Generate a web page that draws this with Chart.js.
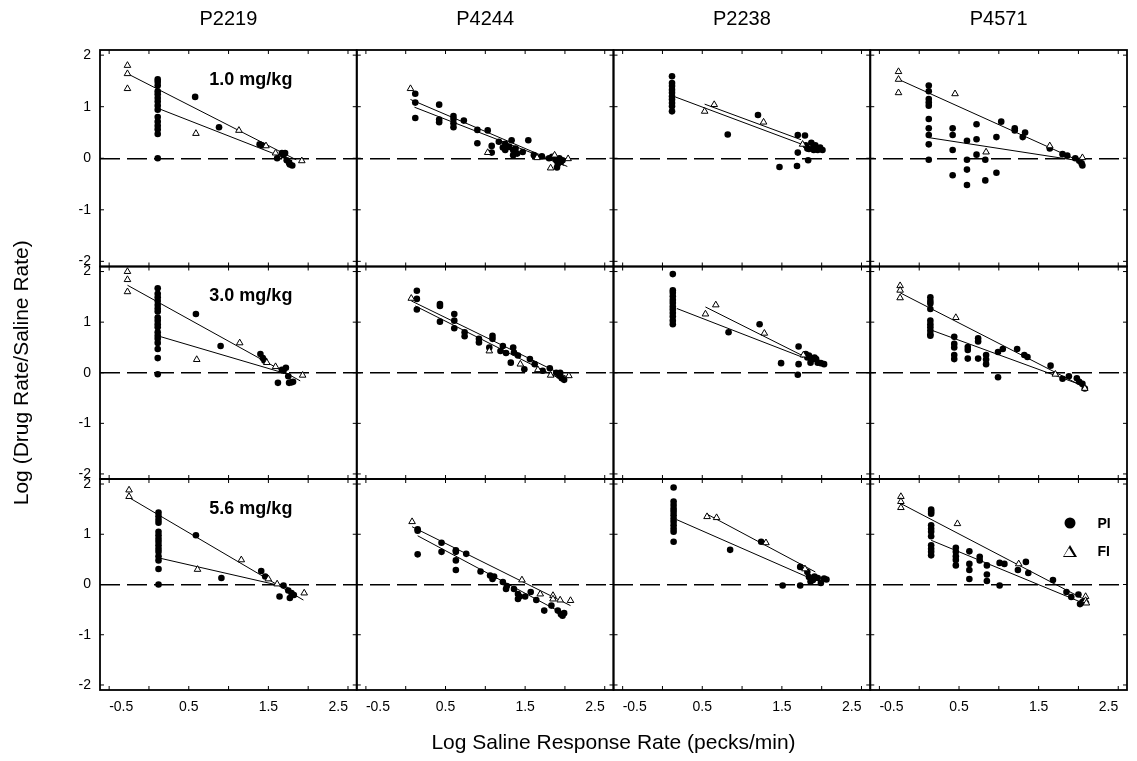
<!DOCTYPE html>
<html>
<head>
<meta charset="utf-8">
<title>Log (Drug Rate/Saline Rate)</title>
<script src="https://cdn.jsdelivr.net/npm/chart.js@4.4.0/dist/chart.umd.min.js"></script>
<style>
  body { margin: 0; background: #fff; }
  #wrap { position: relative; width: 1137px; height: 761px; font-family: "Liberation Sans", Arial, sans-serif; color: #000; }
  #wrap canvas { position: absolute; left: 0; top: 0; }
  .lbl { position: absolute; white-space: nowrap; transform: translate(-50%, -50%); }
  .colTitle { font-size: 20px; }
  .dose { font-size: 18px; font-weight: bold; }
  .xTitle { font-size: 21px; }
  .leg { position: absolute; font-size: 14px; font-weight: bold; transform: translate(0, -50%); }
  .dot { position: absolute; width: 11px; height: 11px; border-radius: 50%; background: #000; transform: translate(-50%, -50%); }
  .tri { position: absolute; width: 0; height: 0; border-left: 7px solid transparent; border-right: 7px solid transparent; border-bottom: 12px solid #000; transform: translate(-50%, -50%); }
  .tri::after { content: ""; position: absolute; left: -5.5px; top: 2.5px; border-left: 5.5px solid transparent; border-right: 5.5px solid transparent; border-bottom: 8.5px solid #fff; }
</style>
</head>
<body>
<div id="wrap">
  <canvas id="chart" width="1137" height="761"></canvas>
</div>
<script>
const subjects = ["P2219", "P4244", "P2238", "P4571"]
const doses = ["1.0 mg/kg", "3.0 mg/kg", "5.6 mg/kg"]
const xTicks = [-0.5, 0, 0.5, 1, 1.5, 2, 2.5]
const xLabelled = [-0.5, 0.5, 1.5, 2.5]
const yTicks = [-2, -1, 0, 1, 2]

// 1.0 mg/kg
const pi_P2219_10 = [[0.11,1.53],[0.11,1.48],[0.11,1.41],[0.11,1.30],[0.11,1.24],[0.11,1.17],[0.11,1.10],[0.11,1.02],[0.11,0.94],[0.11,0.80],[0.11,0.71],[0.11,0.63],[0.11,0.56],[0.11,0.47],[0.11,0.0],[0.58,1.19],[0.88,0.60],[1.39,0.27],[1.42,0.25],[1.61,0.0],[1.67,0.10],[1.71,0.10],[1.69,0.06],[1.73,-0.04],[1.76,-0.09],[1.80,-0.14],[1.77,-0.12]]
const fi_P2219_10 = [[-0.27,1.80],[-0.27,1.64],[-0.27,1.35],[0.59,0.48],[1.13,0.54],[1.47,0.24],[1.59,0.10],[1.92,-0.05]]
const fitPi_P2219_10 = [[0.11,0.97],[1.80,-0.05]]
const fitFi_P2219_10 = [[-0.27,1.64],[1.85,-0.03]]

const pi_P4244_10 = [[0.12,1.25],[0.12,1.08],[0.12,0.78],[0.42,1.04],[0.42,0.75],[0.42,0.70],[0.60,0.82],[0.60,0.76],[0.60,0.68],[0.60,0.60],[0.73,0.73],[0.90,0.55],[0.90,0.29],[1.03,0.54],[1.08,0.24],[1.08,0.11],[1.17,0.32],[1.22,0.21],[1.25,0.16],[1.25,0.28],[1.33,0.35],[1.30,0.22],[1.35,0.16],[1.35,0.06],[1.38,0.19],[1.40,0.09],[1.47,0.12],[1.54,0.35],[1.61,0.06],[1.71,0.04],[1.80,0.0],[1.84,0.03],[1.89,-0.04],[1.90,-0.18],[1.93,0.0],[1.95,-0.07],[1.91,-0.11],[1.97,-0.04]]
const fi_P4244_10 = [[0.06,1.35],[1.03,0.11],[1.82,-0.19],[1.87,0.06],[2.04,-0.01],[1.65,0.01]]
const fitPi_P4244_10 = [[0.11,0.99],[1.99,-0.14]]
const fitFi_P4244_10 = [[0.06,1.14],[2.03,-0.16]]

const pi_P2238_10 = [[0.12,1.59],[0.12,1.46],[0.12,1.40],[0.12,1.33],[0.12,1.27],[0.12,1.20],[0.12,1.14],[0.12,1.07],[0.12,1.01],[0.12,0.91],[0.82,0.46],[1.20,0.84],[1.47,-0.17],[1.69,-0.15],[1.70,0.11],[1.70,0.45],[1.79,0.44],[1.83,-0.04],[1.80,0.25],[1.84,0.18],[1.87,0.30],[1.90,0.22],[1.92,0.25],[1.95,0.16],[1.98,0.21],[2.01,0.16],[1.90,0.16],[1.82,0.19]]
const fi_P2238_10 = [[0.53,0.91],[0.65,1.04],[1.27,0.70],[1.76,0.27]]
const fitPi_P2238_10 = [[0.16,1.19],[1.77,0.26]]
const fitFi_P2238_10 = [[0.53,1.05],[1.74,0.36]]

const pi_P4571_10 = [[0.12,1.41],[0.12,1.30],[0.12,1.15],[0.12,1.08],[0.12,1.02],[0.12,0.76],[0.12,0.58],[0.12,0.45],[0.12,0.27],[0.12,-0.03],[0.42,0.58],[0.42,0.45],[0.42,0.16],[0.42,-0.33],[0.60,0.34],[0.60,-0.03],[0.60,-0.22],[0.60,-0.52],[0.72,0.66],[0.72,0.37],[0.72,0.07],[0.83,-0.03],[0.83,-0.43],[0.97,0.41],[0.97,-0.28],[1.03,0.71],[1.20,0.58],[1.20,0.54],[1.30,0.41],[1.33,0.50],[1.64,0.19],[1.80,0.08],[1.86,0.05],[1.96,0.0],[2.01,-0.05],[2.05,-0.14],[2.04,-0.10]]
const fi_P4571_10 = [[-0.26,1.68],[-0.26,1.53],[-0.26,1.27],[0.45,1.25],[0.84,0.12],[1.64,0.24],[2.05,0.01]]
const fitPi_P4571_10 = [[0.12,0.40],[2.01,-0.05]]
const fitFi_P4571_10 = [[-0.26,1.53],[2.05,-0.08]]

// 3.0 mg/kg
const pi_P2219_30 = [[0.11,1.67],[0.11,1.56],[0.11,1.49],[0.11,1.42],[0.11,1.34],[0.11,1.27],[0.11,1.21],[0.11,1.09],[0.11,1.03],[0.11,0.96],[0.11,0.90],[0.11,0.80],[0.11,0.73],[0.11,0.67],[0.11,0.59],[0.11,0.47],[0.11,0.29],[0.11,-0.03],[0.59,1.16],[0.90,0.53],[1.40,0.37],[1.43,0.29],[1.45,0.24],[1.67,0.06],[1.72,0.10],[1.69,0.04],[1.62,-0.20],[1.76,-0.20],[1.79,-0.19],[1.75,-0.07],[1.81,-0.18]]
const fi_P2219_30 = [[-0.27,2.0],[-0.27,1.84],[-0.27,1.60],[0.60,0.26],[1.14,0.59],[1.48,0.20],[1.59,0.12],[1.93,-0.05]]
const fitPi_P2219_30 = [[0.11,0.73],[1.77,-0.04]]
const fitFi_P2219_30 = [[-0.27,1.73],[1.90,-0.16]]

const pi_P4244_30 = [[0.14,1.62],[0.14,1.46],[0.14,1.25],[0.43,1.36],[0.43,1.32],[0.43,1.01],[0.61,1.16],[0.61,1.03],[0.61,0.88],[0.74,0.80],[0.74,0.72],[0.92,0.67],[0.92,0.60],[1.09,0.73],[1.09,0.67],[1.05,0.50],[1.19,0.43],[1.22,0.53],[1.26,0.39],[1.35,0.50],[1.36,0.40],[1.32,0.20],[1.41,0.34],[1.49,0.07],[1.56,0.27],[1.62,0.17],[1.72,0.04],[1.81,0.09],[1.89,0.0],[1.93,-0.06],[1.96,-0.11],[1.99,-0.14],[1.94,0.0]]
const fi_P4244_30 = [[0.07,1.47],[1.05,0.43],[1.44,0.17],[1.66,0.06],[1.82,-0.05],[2.05,-0.06]]
const fitPi_P4244_30 = [[0.12,1.32],[1.99,-0.16]]
const fitFi_P4244_30 = [[0.07,1.42],[2.05,-0.10]]

const pi_P2238_30 = [[0.13,1.95],[0.13,1.63],[0.13,1.58],[0.13,1.51],[0.13,1.44],[0.13,1.38],[0.13,1.31],[0.13,1.25],[0.13,1.18],[0.13,1.11],[0.13,1.03],[0.13,0.96],[0.83,0.80],[1.22,0.96],[1.49,0.19],[1.71,0.52],[1.71,0.17],[1.70,-0.04],[1.80,0.37],[1.82,0.30],[1.86,0.20],[1.89,0.27],[1.93,0.27],[1.95,0.20],[1.99,0.19],[2.03,0.17],[1.84,0.34],[1.91,0.30]]
const fi_P2238_30 = [[0.54,1.16],[0.67,1.34],[1.28,0.78],[1.77,0.35]]
const fitPi_P2238_30 = [[0.18,1.27],[1.77,0.30]]
const fitFi_P2238_30 = [[0.54,1.30],[1.77,0.33]]

const pi_P4571_30 = [[0.14,1.49],[0.14,1.42],[0.14,1.37],[0.14,1.26],[0.14,1.03],[0.14,0.96],[0.14,0.90],[0.14,0.83],[0.14,0.76],[0.14,0.73],[0.44,0.71],[0.44,0.57],[0.44,0.50],[0.44,0.35],[0.44,0.27],[0.61,0.51],[0.61,0.45],[0.61,0.28],[0.74,0.68],[0.74,0.62],[0.74,0.28],[0.84,0.35],[0.84,0.26],[0.84,0.17],[0.99,-0.09],[0.99,0.41],[1.05,0.47],[1.23,0.47],[1.32,0.35],[1.36,0.31],[1.65,0.14],[1.80,-0.12],[1.88,-0.07],[1.98,-0.11],[2.01,-0.18],[2.05,-0.22],[2.08,-0.31]]
const fi_P4571_30 = [[-0.24,1.72],[-0.24,1.63],[-0.24,1.48],[0.46,1.09],[1.71,-0.03],[2.08,-0.31]]
const fitPi_P4571_30 = [[0.14,0.85],[2.05,-0.25]]
const fitFi_P4571_30 = [[-0.24,1.58],[2.08,-0.29]]

// 5.6 mg/kg
const pi_P2219_56 = [[0.12,1.43],[0.12,1.36],[0.12,1.29],[0.12,1.23],[0.12,1.05],[0.12,0.98],[0.12,0.91],[0.12,0.85],[0.12,0.78],[0.12,0.71],[0.12,0.65],[0.12,0.56],[0.12,0.48],[0.12,0.31],[0.12,0.0],[0.59,0.98],[0.91,0.13],[1.41,0.27],[1.46,0.16],[1.69,-0.02],[1.75,-0.12],[1.64,-0.24],[1.77,-0.27],[1.82,-0.21],[1.79,-0.17]]
const fi_P2219_56 = [[-0.25,1.88],[-0.25,1.75],[0.61,0.30],[1.16,0.49],[1.50,0.11],[1.61,0.01],[1.95,-0.17]]
const fitPi_P2219_56 = [[0.12,0.53],[1.75,-0.06]]
const fitFi_P2219_56 = [[-0.25,1.73],[1.94,-0.31]]

const pi_P4244_56 = [[0.15,1.10],[0.15,1.07],[0.15,0.60],[0.45,0.83],[0.45,0.65],[0.63,0.68],[0.63,0.65],[0.63,0.48],[0.63,0.29],[0.76,0.61],[0.94,0.26],[1.06,0.18],[1.11,0.16],[1.09,0.11],[1.22,0.05],[1.26,-0.09],[1.27,-0.03],[1.36,-0.09],[1.41,-0.19],[1.41,-0.29],[1.43,-0.24],[1.50,-0.24],[1.57,-0.15],[1.64,-0.31],[1.74,-0.52],[1.83,-0.42],[1.91,-0.52],[1.95,-0.59],[1.99,-0.57],[1.97,-0.62]]
const fi_P4244_56 = [[0.08,1.25],[1.46,0.09],[1.69,-0.19],[1.85,-0.22],[1.85,-0.29],[1.94,-0.31],[2.07,-0.32]]
const fitPi_P4244_56 = [[0.15,0.97],[1.99,-0.59]]
const fitFi_P4244_56 = [[0.08,1.15],[2.07,-0.42]]

const pi_P2238_56 = [[0.14,1.93],[0.14,1.65],[0.14,1.58],[0.14,1.51],[0.14,1.45],[0.14,1.38],[0.14,1.31],[0.14,1.25],[0.14,1.18],[0.14,1.11],[0.14,1.05],[0.14,0.85],[0.85,0.69],[1.24,0.85],[1.51,-0.02],[1.73,-0.02],[1.73,0.35],[1.82,0.25],[1.84,0.15],[1.86,0.06],[1.91,0.16],[1.95,0.13],[1.99,0.03],[2.03,0.12],[2.06,0.10],[1.89,0.09]]
const fi_P2238_56 = [[0.56,1.35],[0.68,1.33],[1.30,0.83],[1.79,0.31]]
const fitPi_P2238_56 = [[0.18,1.29],[1.82,0.15]]
const fitFi_P2238_56 = [[0.56,1.40],[1.92,0.25]]

const pi_P4571_56 = [[0.15,1.49],[0.15,1.45],[0.15,1.41],[0.15,1.18],[0.15,1.11],[0.15,1.05],[0.15,0.96],[0.15,0.78],[0.15,0.71],[0.15,0.65],[0.15,0.58],[0.46,0.73],[0.46,0.65],[0.46,0.56],[0.46,0.49],[0.46,0.38],[0.63,0.66],[0.63,0.41],[0.63,0.29],[0.63,0.11],[0.76,0.55],[0.76,0.48],[0.85,0.38],[0.85,0.20],[0.85,0.07],[1.01,0.43],[1.01,-0.02],[1.07,0.41],[1.24,0.29],[1.34,0.45],[1.37,0.23],[1.68,0.09],[1.85,-0.15],[1.91,-0.25],[2.00,-0.20],[2.02,-0.39],[2.05,-0.35]]
const fi_P4571_56 = [[-0.23,1.75],[-0.23,1.65],[-0.23,1.53],[0.48,1.21],[1.25,0.41],[2.09,-0.24],[2.09,-0.32],[2.10,-0.37]]
const fitPi_P4571_56 = [[0.15,0.88],[2.03,-0.35]]
const fitFi_P4571_56 = [[-0.23,1.61],[2.09,-0.31]]

// rows = doses, columns = subjects
const piRows = [
	[pi_P2219_10, pi_P4244_10, pi_P2238_10, pi_P4571_10],
	[pi_P2219_30, pi_P4244_30, pi_P2238_30, pi_P4571_30],
	[pi_P2219_56, pi_P4244_56, pi_P2238_56, pi_P4571_56],
]
const fiRows = [
	[fi_P2219_10, fi_P4244_10, fi_P2238_10, fi_P4571_10],
	[fi_P2219_30, fi_P4244_30, fi_P2238_30, fi_P4571_30],
	[fi_P2219_56, fi_P4244_56, fi_P2238_56, fi_P4571_56],
]
const fitPiRows = [
	[fitPi_P2219_10, fitPi_P4244_10, fitPi_P2238_10, fitPi_P4571_10],
	[fitPi_P2219_30, fitPi_P4244_30, fitPi_P2238_30, fitPi_P4571_30],
	[fitPi_P2219_56, fitPi_P4244_56, fitPi_P2238_56, fitPi_P4571_56],
]
const fitFiRows = [
	[fitFi_P2219_10, fitFi_P4244_10, fitFi_P2238_10, fitFi_P4571_10],
	[fitFi_P2219_30, fitFi_P4244_30, fitFi_P2238_30, fitFi_P4571_30],
	[fitFi_P2219_56, fitFi_P4244_56, fitFi_P2238_56, fitFi_P4571_56],
]

const font = "'Liberation Sans', Arial, sans-serif"
const pts = (arr) => arr.map(([x, y]) => ({ x, y }))

const datasets = []
doses.forEach((d, r) => {
	subjects.forEach((s, c) => {
		const axes = { xAxisID: "x" + c, yAxisID: "y" + r }
		datasets.push({ ...axes, label: "PI", data: pts(piRows[r][c]), order: 1,
			pointStyle: "circle", pointRadius: 3.3, backgroundColor: "#000", borderColor: "#000", borderWidth: 0 })
		datasets.push({ ...axes, label: "FI", data: pts(fiRows[r][c]), order: 0,
			pointStyle: "triangle", pointRadius: 3.8, backgroundColor: "#fff", borderColor: "#000", borderWidth: 1 })
		datasets.push({ ...axes, label: "PI fit", data: pts(fitPiRows[r][c]), order: 2,
			showLine: true, pointRadius: 0, borderColor: "#000", borderWidth: 1 })
		datasets.push({ ...axes, label: "FI fit", data: pts(fitFiRows[r][c]), order: 2,
			showLine: true, pointRadius: 0, borderColor: "#000", borderWidth: 1 })
	})
})

const scales = {}
subjects.forEach((s, c) => {
	scales["x" + c] = {
		type: "linear", axis: "x", position: "bottom", stack: "cols", stackWeight: 1,
		min: -0.615, max: 2.61,
		afterBuildTicks: (ax) => { ax.ticks = xTicks.map((v) => ({ value: v })) },
		afterFit: (ax) => { ax.height = 71 },
		grid: { display: false, drawTicks: false, tickLength: 0 },
		border: { display: false },
		ticks: {
			align: "inner", autoSkip: false, maxRotation: 0, minRotation: 0, padding: 9,
			color: "#000", font: { family: font, size: 14 },
			callback: (v) => (xLabelled.includes(v) ? v.toFixed(1) : ""),
		},
	}
})
// left boxes are stacked from the last defined, so add the bottom row first
const rowWeights = [216.5, 212.5, 211]
for (let r = doses.length - 1; r >= 0; r--) {
	scales["y" + r] = {
		type: "linear", axis: "y", position: "left", stack: "rows", stackWeight: rowWeights[r],
		min: -2.1, max: 2.1,
		afterBuildTicks: (ax) => { ax.ticks = yTicks.map((v) => ({ value: v })) },
		afterFit: (ax) => { ax.width = 100 },
		grid: {
			drawTicks: false, tickLength: 0, lineWidth: 1.4,
			color: (ctx) => (ctx.tick && ctx.tick.value === 0 ? "#000" : "rgba(0,0,0,0)"),
		},
		border: { display: false, dash: [20, 7] },
		ticks: { padding: 9, color: "#000", font: { family: font, size: 14 }, callback: (v) => String(v) },
		title: {
			display: r === 1, text: "Log (Drug Rate/Saline Rate)", color: "#000",
			font: { family: font, size: 21 }, padding: { top: 10, bottom: 0 },
		},
	}
}

// panel frames and inward tick marks
const panelFrame = {
	id: "panelFrame",
	afterDraw(chart) {
		const ctx = chart.ctx
		ctx.save()
		ctx.strokeStyle = "#000"
		subjects.forEach((s, c) => {
			const xs = chart.scales["x" + c]
			doses.forEach((d, r) => {
				const ys = chart.scales["y" + r]
				ctx.lineWidth = 1.8
				ctx.strokeRect(xs.left, ys.top, xs.right - xs.left, ys.bottom - ys.top)
				ctx.lineWidth = 1
				ctx.beginPath()
				xTicks.forEach((v) => {
					const px = xs.getPixelForValue(v)
					ctx.moveTo(px, ys.bottom); ctx.lineTo(px, ys.bottom - 4)
					ctx.moveTo(px, ys.top); ctx.lineTo(px, ys.top + 4)
				})
				yTicks.forEach((v) => {
					const py = ys.getPixelForValue(v)
					ctx.moveTo(xs.left, py); ctx.lineTo(xs.left + 4, py)
					ctx.moveTo(xs.right, py); ctx.lineTo(xs.right - 4, py)
				})
				ctx.stroke()
			})
		})
		ctx.restore()
	},
}

const chart = new Chart(document.getElementById("chart"), {
	type: "scatter",
	data: { datasets },
	options: {
		responsive: false,
		animation: false,
		devicePixelRatio: 1,
		layout: { padding: { top: 50, right: 10, left: 0, bottom: 0 } },
		plugins: { legend: { display: false }, tooltip: { enabled: false } },
		scales,
	},
	plugins: [panelFrame],
})

// html labels placed from the chart's scales
const wrap = document.getElementById("wrap")
const addDiv = (cls, html, x, y) => {
	const el = document.createElement("div")
	el.className = cls
	el.innerHTML = html
	el.style.left = x + "px"
	el.style.top = y + "px"
	wrap.appendChild(el)
	return el
}

const doseAnchor = [1.28, 1.53]
const legendAnchor = { x: 1.89, textX: 2.24, pi: 1.22, fi: 0.66 }

subjects.forEach((s, c) => {
	const xs = chart.scales["x" + c]
	addDiv("lbl colTitle", s, (xs.left + xs.right) / 2, 18)
})
doses.forEach((d, r) => {
	addDiv("lbl dose", d, chart.scales.x0.getPixelForValue(doseAnchor[0]), chart.scales["y" + r].getPixelForValue(doseAnchor[1]))
})
const xl = chart.scales.x3, yl = chart.scales.y2
addDiv("dot", "", xl.getPixelForValue(legendAnchor.x), yl.getPixelForValue(legendAnchor.pi))
addDiv("leg", "PI", xl.getPixelForValue(legendAnchor.textX), yl.getPixelForValue(legendAnchor.pi))
addDiv("tri", "", xl.getPixelForValue(legendAnchor.x), yl.getPixelForValue(legendAnchor.fi))
addDiv("leg", "FI", xl.getPixelForValue(legendAnchor.textX), yl.getPixelForValue(legendAnchor.fi))
addDiv("lbl xTitle", "Log Saline Response Rate (pecks/min)", (chart.scales.x1.right + chart.scales.x2.left) / 2, 742)
</script>
</body>
</html>
